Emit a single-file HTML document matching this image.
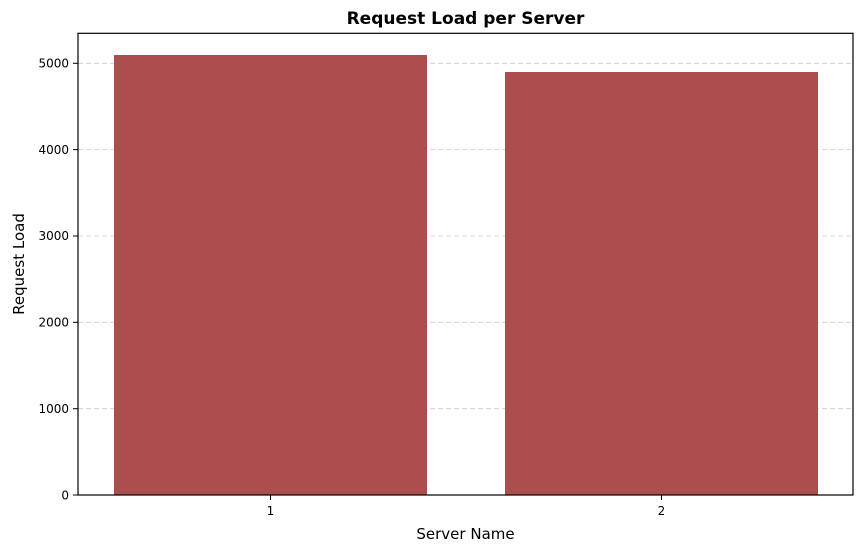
<!DOCTYPE html>
<html><head><style>body{margin:0;background:#fff}</style></head><body>
<svg width="863" height="552" xmlns="http://www.w3.org/2000/svg" font-family="DejaVu Sans, Liberation Sans, sans-serif">
<rect width="863" height="552" fill="#fff"/>
<g stroke="#cccccc" stroke-dasharray="5,3" stroke-width="0.8">
<line x1="78" x2="853" y1="408.7" y2="408.7"/>
<line x1="78" x2="853" y1="322.3" y2="322.3"/>
<line x1="78" x2="853" y1="236" y2="236"/>
<line x1="78" x2="853" y1="149.6" y2="149.6"/>
<line x1="78" x2="853" y1="63.3" y2="63.3"/>
</g>
<rect x="114" y="55" width="313" height="440" fill="#ab4e4d"/>
<rect x="505" y="72" width="313" height="423" fill="#ab4e4d"/>
<rect x="78" y="33.3" width="775" height="461.7" fill="none" stroke="#000" stroke-width="1.2"/>
<g stroke="#000" stroke-width="1">
<line x1="73" x2="78" y1="495" y2="495"/>
<line x1="73" x2="78" y1="408.7" y2="408.7"/>
<line x1="73" x2="78" y1="322.3" y2="322.3"/>
<line x1="73" x2="78" y1="236" y2="236"/>
<line x1="73" x2="78" y1="149.6" y2="149.6"/>
<line x1="73" x2="78" y1="63.3" y2="63.3"/>
<line x1="270.5" x2="270.5" y1="495" y2="500"/>
<line x1="661.5" x2="661.5" y1="495" y2="500"/>
</g>
<g font-size="12" text-anchor="end" fill="#000">
<text x="69" y="499.5">0</text>
<text x="69" y="413">1000</text>
<text x="69" y="326.5">2000</text>
<text x="69" y="240">3000</text>
<text x="69" y="154">4000</text>
<text x="69" y="67.5">5000</text>
</g>
<g font-size="12" text-anchor="middle">
<text x="270.5" y="515">1</text>
<text x="661.5" y="515">2</text>
</g>
<text x="465.5" y="539" font-size="15" text-anchor="middle">Server Name</text>
<text transform="translate(24,264) rotate(-90)" font-size="15" text-anchor="middle">Request Load</text>
<text x="465.5" y="24" font-size="17" font-weight="bold" text-anchor="middle">Request Load per Server</text>
</svg>
</body></html>
